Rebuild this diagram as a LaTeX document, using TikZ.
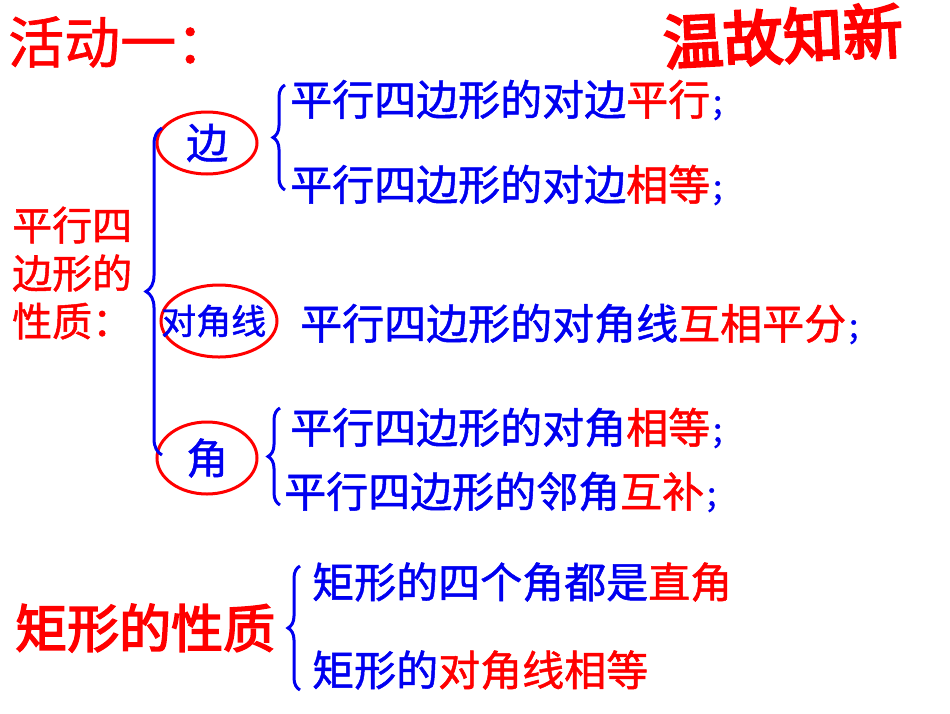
\documentclass[tikz,border=0pt]{standalone}
\usepackage{fontspec}
\setmainfont[FakeBold=1.2]{Noto Sans CJK SC}
\newfontfamily\stampfont[FakeBold=4]{Noto Sans CJK SC}
\newfontfamily\heavyfont[FakeBold=3]{Noto Sans CJK SC}
\usetikzlibrary{decorations.pathreplacing}
\definecolor{bl}{RGB}{0,0,240}
\definecolor{rd}{RGB}{255,0,0}
\begin{document}
\begin{tikzpicture}[x=1pt,y=-1pt,
  txt/.style={anchor=west,inner sep=0pt,text=bl,font=\fontsize{42}{46}\selectfont},
  ov/.style={draw=rd,line width=3pt},
  br/.style={draw=bl,line width=3pt,decorate,decoration={brace,amplitude=#1}},
  br/.default=18]
\useasboundingbox (0,0) rectangle (950,713);
\node[anchor=west,inner sep=0pt,text=rd,font=\fontsize{56}{60}\selectfont] (t) at (8,42) {活动一：};
\node[anchor=center,inner sep=0pt,text=rd,font=\stampfont\fontsize{60}{62}\selectfont,rotate=3] (st) at (783,36) {温故知新};
\node[anchor=west,inner sep=0pt,text=rd,font=\fontsize{40}{48}\selectfont,align=left] (pl) at (12,273) {平行四\\边形的\\性质：};
\draw[ov] (207,143) ellipse[x radius=50,y radius=31];
\node[txt] (e1) at (186,143) {边};
\draw[ov] (219,321) ellipse[x radius=58,y radius=36];
\node[txt,font=\fontsize{35}{38}\selectfont] (e2) at (161,321) {对角线};
\draw[ov] (207,458) ellipse[x radius=50,y radius=36];
\node[txt] (e3) at (186,458) {角};
\draw[br=16] (162,455) -- (162,128);
\draw[br=12] (285,190) -- (285,85);
\draw[br=12] (280,505) -- (280,408);
\draw[br=12] (300,690) -- (300,566);
\node[txt] (a1) at (290,100) {平行四边形的对边\textcolor{rd}{平行}{\fontsize{30}{30}\selectfont；}};
\node[txt] (a2) at (290,185) {平行四边形的对边\textcolor{rd}{相等}{\fontsize{30}{30}\selectfont；}};
\node[txt] (a3) at (300,324) {平行四边形的对角线\textcolor{rd}{互相平分}{\fontsize{30}{30}\selectfont；}};
\node[txt] (a4) at (290,428) {平行四边形的对角\textcolor{rd}{相等}{\fontsize{30}{30}\selectfont；}};
\node[txt] (a5) at (284,492) {平行四边形的邻角\textcolor{rd}{互补}{\fontsize{30}{30}\selectfont；}};
\node[anchor=west,inner sep=0pt,text=rd,font=\heavyfont\fontsize{52}{56}\selectfont] (rp) at (15,628) {矩形的性质};
\node[txt] (r1) at (312,582) {矩形的四个角都是\textcolor{rd}{直角}};
\node[txt] (r2) at (312,670) {矩形的\textcolor{rd}{对角线相等}};
\end{tikzpicture}
\end{document}
